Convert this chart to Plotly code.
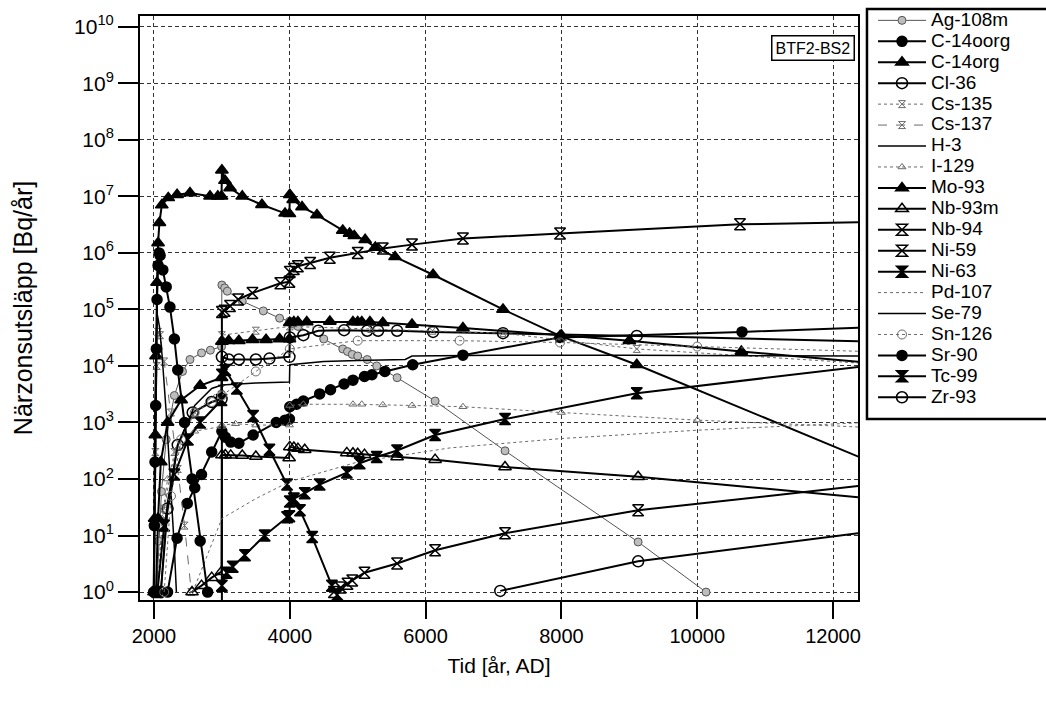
import plotly.graph_objects as go

# ---- release rates from the near field, BTF2-BS2 (year AD, Bq/year) ----
ag108m_t = [2040, 2070, 2110, 2180, 2300, 2420, 2530, 2700, 2830, 2995, 3000, 3040, 3080, 3300, 3610, 3850, 4000,
            4060, 4120, 4500, 4780, 4850, 4920, 5000, 5140, 5280, 5580, 6140, 7170, 9130, 10130]
ag108m_v = [1, 8, 60, 500, 3e3, 8e3, 1.3e4, 1.7e4, 1.9e4, 2.2e4, 2.7e5, 2.4e5, 2.1e5, 1.4e5, 9.4e4, 7e4, 6.2e4,
            5.5e4, 5e4, 3e4, 2e4, 1.8e4, 1.6e4, 1.5e4, 1.3e4, 1e4, 6.2e3, 2.4e3, 315, 7.7, 1]

c14oorg_t = [2200, 2340, 2490, 2600, 2700, 2850, 3000, 3050, 3130, 3250, 3460, 3800, 3930, 3995, 4000, 4100, 4200,
             4440, 4600, 4800, 4930, 5100, 5210, 5400, 5810, 6550, 7980, 10660, 12500]
c14oorg_v = [1, 9, 37, 70, 120, 300, 700, 550, 450, 430, 600, 1000, 1100, 1150, 1.9e3, 2.1e3, 2.4e3,
             3.2e3, 3.8e3, 4.8e3, 5.6e3, 6.5e3, 7e3, 8e3, 1.05e4, 1.55e4, 3.2e4, 4e4, 4.8e4]

c14org_t = [2000, 2010, 2020, 2030, 2045, 2060, 2080, 2115, 2210, 2340, 2530, 2825, 2940, 2995, 3000, 3045, 3120,
            3300, 3590, 3930, 3995, 4000, 4050, 4180, 4400, 4780, 4880, 4950, 5110, 5260, 5550, 6110, 7140, 7980,
            9110, 12500]
c14org_v = [1, 20, 600, 1.5e4, 3e5, 1.5e6, 3.4e6, 7e6, 9.4e6, 1.07e7, 1.15e7, 1.0e7, 1.0e7, 1.0e7, 2.9e7, 1.9e7, 1.4e7,
            1e7, 7.1e6, 5e6, 4.9e6, 1.07e7, 8.7e6, 6.5e6, 4.7e6, 2.5e6, 2.2e6, 2e6, 1.7e6, 1.25e6, 8.5e5, 4.1e5, 1e5, 3.4e4,
            1.05e4, 215]

cl36_t = [2100, 2200, 2350, 2570, 2850, 2995, 3000, 3100, 3250, 3500, 3700, 3995, 4000, 4200, 4420, 4800, 5140,
          5300, 5580, 6110, 7140, 9110, 12500]
cl36_v = [1, 30, 400, 1.5e3, 2.3e3, 2.6e3, 1.45e4, 1.3e4, 1.3e4, 1.3e4, 1.35e4, 1.45e4, 3.2e4, 3.5e4, 4.2e4, 4.3e4, 4.2e4,
          4.2e4, 4.2e4, 4e4, 3.8e4, 3.4e4, 2.7e4]

cs135_t = [2050, 2150, 2300, 2600, 2995, 3000, 3500, 4000, 5200, 6100, 7140, 9110, 12500]
cs135_v = [1, 30, 300, 1.5e3, 4e3, 3.5e4, 4.2e4, 5e4, 4.5e4, 4.2e4, 3.8e4, 2e4, 1.1e4]

cs137_t = [2000, 2020, 2040, 2060, 2090, 2150, 2250, 2350, 2450, 2550]
cs137_v = [1, 300, 1e4, 4e4, 3.5e4, 1.2e4, 1.5e3, 150, 15, 1]

h3_t = [1995, 2010, 2030, 2050, 2080, 2120, 2180, 2240, 2300, 2330]
h3_v = [1, 1e3, 3e4, 8e4, 5e4, 1.5e4, 1.5e3, 100, 6, 1]

i129_t = [2050, 2120, 2200, 2350, 2600, 2995, 3000, 3200, 3500, 3995, 4000, 4200, 4930, 5060, 5370, 5800, 6550,
          8000, 10000, 12500]
i129_v = [1, 20, 100, 350, 700, 850, 900, 950, 900, 900, 2000, 2100, 2100, 2100, 2050, 2000, 1900,
          1500, 1100, 820]

mo93_t = [2030, 2060, 2100, 2200, 2400, 2680, 2995, 3000, 3100, 3250, 3450, 3650, 3850, 3995, 4000, 4060, 4120,
          4250, 4590, 4930, 5000, 5060, 5180, 5370, 5800, 6550, 8000, 9000, 10650, 12500]
mo93_v = [1, 20, 200, 1e3, 2.5e3, 4.5e3, 6.2e3, 2.7e4, 2.8e4, 2.8e4, 2.9e4, 2.9e4, 3e4, 3e4, 5.8e4, 6e4, 6e4,
          6e4, 6.1e4, 6e4, 6e4, 6e4, 6e4, 5.8e4, 5.4e4, 4.7e4, 3.5e4, 2.8e4, 1.8e4, 1.15e4]

nb93m_t = [2560, 2700, 2850, 2995, 3000, 3050, 3130, 3300, 3500, 3990, 4000, 4060, 4120, 4220, 4840, 4930, 5000,
           5100, 5580, 6140, 7170, 9130, 12500]
nb93m_v = [1, 1.3, 1.8, 2.3, 265, 265, 262, 260, 250, 235, 370, 360, 345, 330, 290, 285, 280,
           270, 245, 220, 163, 110, 46]

nb94_t = [3000, 3000, 3040, 3120, 3240, 3450, 3860, 3995, 4000, 4060, 4120, 4300, 4590, 5000, 5370, 5800, 6550,
          7980, 10630, 12500]
nb94_v = [0.5, 9e4, 9.5e4, 1.15e5, 1.5e5, 1.95e5, 2.9e5, 3.1e5, 4.6e5, 5.2e5, 5.8e5, 6.6e5, 8.2e5, 1e6, 1.2e6, 1.4e6,
          1.8e6, 2.2e6, 3.2e6, 3.5e6]

ni59_t = [4650, 4750, 4850, 4920, 5100, 5580, 6140, 7170, 9130, 12500]
ni59_v = [1, 1.2, 1.4, 1.6, 2.2, 3.2, 5.5, 11, 28, 78]

ni63_t = [2050, 2150, 2300, 2500, 2680, 2995, 3000, 3050, 3220, 3460, 3700, 3960, 4150, 4330, 4620, 4700]
ni63_v = [1, 15, 120, 500, 1e3, 2.5e3, 7e3, 8.5e3, 4e3, 1.3e3, 330, 80, 28, 9.4, 1.3, 0.9]

pd107_t = [2570, 2800, 3000, 3500, 4000, 5000, 6360, 8000, 10000, 12500]
pd107_v = [1, 5, 20, 45, 90, 200, 355, 520, 730, 1000]

se79_t = [2100, 2200, 2350, 2600, 2850, 3000, 3500, 3995, 4000, 4500, 5000, 5700, 5800, 7000, 9000, 12500]
se79_v = [1, 40, 400, 2e3, 4e3, 4.6e3, 5e3, 5.2e3, 1.05e4, 1.2e4, 1.25e4, 1.3e4, 1.5e4, 1.55e4, 1.55e4, 1.5e4]

sn126_t = [2150, 2250, 2400, 2600, 2850, 3000, 3500, 4000, 5000, 6500, 7980, 10000, 12500]
sn126_v = [1, 50, 500, 1.5e3, 2.3e3, 3e3, 8e3, 2e4, 2.8e4, 2.8e4, 2.6e4, 2.2e4, 1.8e4]

sr90_t = [1995, 2005, 2015, 2025, 2035, 2045, 2060, 2075, 2090, 2130, 2180, 2235, 2300, 2350, 2450, 2560, 2680, 2790]
sr90_v = [1, 15, 200, 2e3, 2e4, 1.5e5, 6e5, 1e6, 9e5, 5e5, 2.5e5, 1.1e5, 3e4, 8.5e3, 1e3, 100, 8, 1]

tc99_t = [3000, 3070, 3160, 3340, 3630, 3960, 3995, 4000, 4060, 4220, 4440, 4840, 5030, 5280, 5580, 6140, 7170,
          9110, 12500]
tc99_v = [1.3, 2.2, 2.8, 4.5, 10, 21, 22, 40, 45, 56, 80, 130, 190, 245, 320, 600, 1150, 3300, 1e4]

zr93_t = [7100, 9130, 12500]
zr93_v = [1.05, 3.5, 11.5]

year_ticks = [2000, 4000, 6000, 8000, 10000, 12000]
decade_ticks = list(range(0, 11))

# ---- drawing styles ----
BLACK = "#000000"
GREY = "#6a6a6a"


def thick(symbol, size=10):
    return dict(
        line=dict(color=BLACK, width=2),
        marker=dict(symbol=symbol, size=size, color=BLACK, line=dict(color=BLACK, width=1.5)),
        mode="lines+markers",
    )


def thin(dash, symbol=None, size=7, color=GREY, width=1):
    style = dict(line=dict(color=color, width=width, dash=dash), mode="lines")
    if symbol:
        style["mode"] = "lines+markers"
        style["marker"] = dict(symbol=symbol, size=size, color=color, line=dict(color=color, width=1))
    return style


ag_style = dict(line=dict(color="#555555", width=1), mode="lines+markers",
                marker=dict(symbol="circle", size=8, color="#bdbdbd", line=dict(color="#555555", width=1)))

series = [
    ("Ag-108m", ag108m_t, ag108m_v, ag_style),
    ("C-14oorg", c14oorg_t, c14oorg_v, thick("circle")),
    ("C-14org", c14org_t, c14org_v, thick("triangle-up", size=11)),
    ("Cl-36", cl36_t, cl36_v, thick("circle-open", size=11)),
    ("Cs-135", cs135_t, cs135_v, thin("dot", "hourglass-open")),
    ("Cs-137", cs137_t, cs137_v, thin("dash", "hourglass-open")),
    ("H-3", h3_t, h3_v, thin("solid", color=BLACK, width=1.5)),
    ("I-129", i129_t, i129_v, thin("dot", "triangle-up-open")),
    ("Mo-93", mo93_t, mo93_v, thick("triangle-up", size=11)),
    ("Nb-93m", nb93m_t, nb93m_v, thick("triangle-up-open", size=11)),
    ("Nb-94", nb94_t, nb94_v, thick("hourglass-open", size=11)),
    ("Ni-59", ni59_t, ni59_v, thick("hourglass-open", size=11)),
    ("Ni-63", ni63_t, ni63_v, thick("hourglass", size=11)),
    ("Pd-107", pd107_t, pd107_v, thin("dot")),
    ("Se-79", se79_t, se79_v, thin("solid", color=BLACK, width=1.5)),
    ("Sn-126", sn126_t, sn126_v, thin("dot", "circle-open", size=9)),
    ("Sr-90", sr90_t, sr90_v, thick("circle")),
    ("Tc-99", tc99_t, tc99_v, thick("hourglass", size=11)),
    ("Zr-93", zr93_t, zr93_v, thick("circle-open", size=11)),
]

fig = go.Figure()
for label, t, v, style in series:
    fig.add_trace(go.Scatter(
        x=t, y=v, name="<span style='font-size:19px'>" + label + "</span>",
        cliponaxis=True, **style))

FONT = "Liberation Sans, Arial, sans-serif"

fig.update_layout(
    width=1046, height=706,
    margin=dict(l=140, r=188, t=16, b=106, autoexpand=False),
    paper_bgcolor="white", plot_bgcolor="white",
    font=dict(family=FONT, color=BLACK, size=18),
    showlegend=True,
    legend=dict(x=1.0209, y=1.019, xanchor="left", yanchor="top",
                font=dict(family=FONT, size=13.8, color=BLACK),
                bgcolor="rgba(0,0,0,0)", borderwidth=0, itemwidth=48,
                tracegroupgap=0, maxheight=700),
    xaxis=dict(range=[1794, 12368], tickvals=year_ticks, ticktext=[str(y) for y in year_ticks],
               ticks="outside", ticklen=17, tickwidth=2, tickcolor=BLACK,
               showline=True, linewidth=2, linecolor=BLACK, mirror=True,
               showgrid=True, gridcolor="#333333", gridwidth=1, griddash="4px,3px",
               zeroline=False, tickfont=dict(size=20),
               title=dict(text="Tid [år, AD]", font=dict(size=21), standoff=12)),
    yaxis=dict(type="log", range=[-0.14, 10.19],
               tickvals=[10 ** d for d in decade_ticks],
               ticktext=["10<sup>%d</sup>" % d for d in decade_ticks],
               ticks="outside", ticklen=20, tickwidth=2, tickcolor=BLACK,
               showline=True, linewidth=2, linecolor=BLACK, mirror=True,
               showgrid=True, gridcolor="#333333", gridwidth=1, griddash="4px,3px",
               zeroline=False, tickfont=dict(size=21),
               title=dict(text="Närzonsutsläpp [Bq/år]", font=dict(size=25), standoff=34)),
    annotations=[dict(text="BTF2-BS2", xref="paper", yref="paper", x=0.9965, y=0.9675,
                      xanchor="right", yanchor="top", showarrow=False,
                      font=dict(size=16, color=BLACK), bgcolor="white",
                      bordercolor=BLACK, borderwidth=1.5, borderpad=3)],
    shapes=[dict(type="rect", xref="paper", yref="paper", x0=1.0125, x1=1.4, y0=0.31, y1=1.012,
                 line=dict(color=BLACK, width=2.5), fillcolor="rgba(0,0,0,0)")],
)

fig.write_html("out.html")
